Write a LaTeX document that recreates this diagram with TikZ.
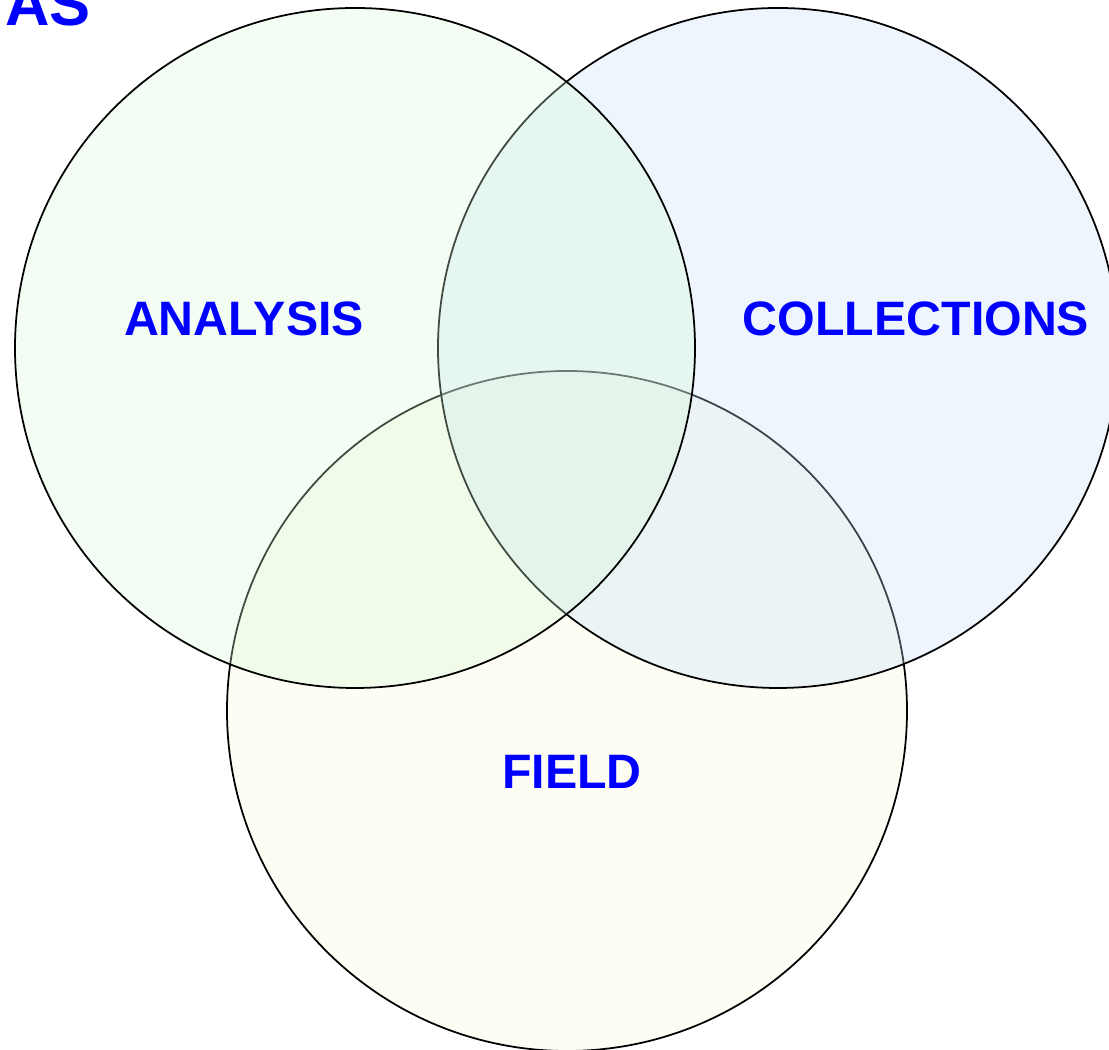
\documentclass[tikz,border=0pt]{standalone}
\usepackage{fontspec}
\setmainfont{Liberation Sans}
\usetikzlibrary{positioning}

\definecolor{analysisfill}{RGB}{215,248,215}
\definecolor{collectfill}{RGB}{198,222,248}
\definecolor{fieldfill}{RGB}{248,248,215}

\tikzset{
    setline/.style={draw=black, line width=1pt, fill opacity=0.3},
    setlabel/.style={text=blue, font=\fontsize{27.5pt}{31pt}\selectfont\bfseries, inner sep=0pt, anchor=base}
}

\begin{document}
\begin{tikzpicture}[x=0.02cm, y=0.02cm]

            \useasboundingbox (0, 0) rectangle (1109, 1050);

            \draw[setline, fill=fieldfill] (567, 339) circle[radius=340];

            \draw[setline, fill=collectfill] (778, 702) circle[radius=340];

            \draw[setline, fill=analysisfill] (355, 702) circle[radius=340];

            \node[setlabel] (analysislabel) at (244, 714) {ANALYSIS};
            \node[setlabel] (collectlabel) at (916, 714) {COLLECTIONS};
            \node[setlabel] (fieldlabel) at (572, 261) {FIELD};

            \node[setlabel, anchor=base west, font=\fontsize{35pt}{40pt}\selectfont\bfseries] (aslabel) at (5, 1024) {AS};
        \end{tikzpicture}
\end{document}
